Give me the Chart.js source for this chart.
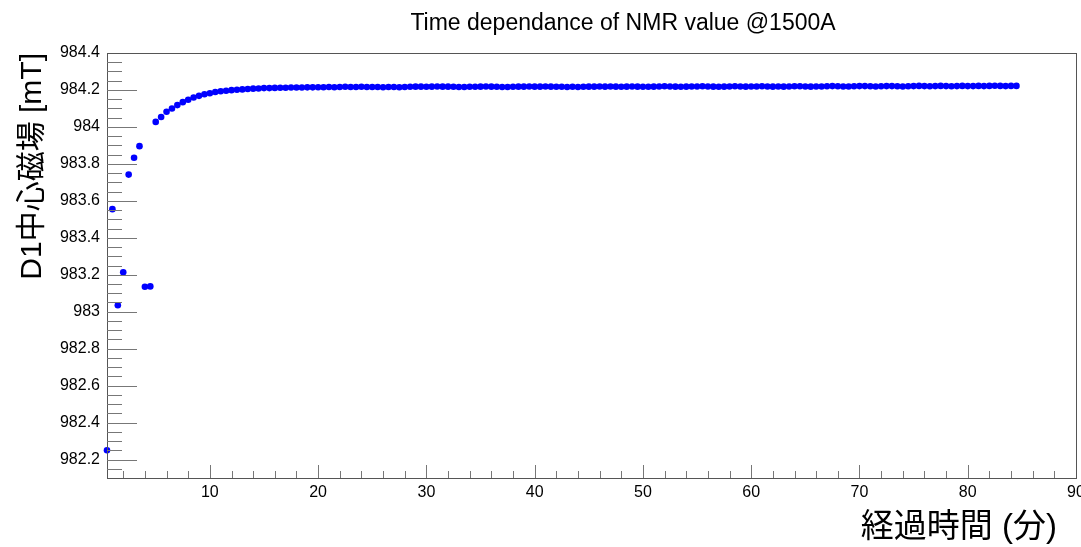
<!DOCTYPE html>
<html>
<head>
<meta charset="utf-8">
<script src="https://cdn.jsdelivr.net/npm/chart.js@4.4.1/dist/chart.umd.min.js"></script>
<style>
  html, body { margin: 0; padding: 0; background: #fff; }
  #wrap { width: 1081px; height: 547px; }
</style>
</head>
<body>
<div id="wrap"><canvas id="nmrChart" width="1081" height="547"></canvas></div>
<script>
// 経過時間 [分]
const times = [
    0.5, 1.0, 1.5, 2.0, 2.5, 3.0, 3.5, 4.0, 4.5, 5.0,
    5.5, 6.0, 6.5, 7.0, 7.5, 8.0, 8.5, 9.0, 9.5, 10.0,
    10.5, 11.0, 11.5, 12.0, 12.5, 13.0, 13.5, 14.0, 14.5, 15.0,
    15.5, 16.0, 16.5, 17.0, 17.5, 18.0, 18.5, 19.0, 19.5, 20.0,
    20.5, 21.0, 21.5, 22.0, 22.5, 23.0, 23.5, 24.0, 24.5, 25.0,
    25.5, 26.0, 26.5, 27.0, 27.5, 28.0, 28.5, 29.0, 29.5, 30.0,
    30.5, 31.0, 31.5, 32.0, 32.5, 33.0, 33.5, 34.0, 34.5, 35.0,
    35.5, 36.0, 36.5, 37.0, 37.5, 38.0, 38.5, 39.0, 39.5, 40.0,
    40.5, 41.0, 41.5, 42.0, 42.5, 43.0, 43.5, 44.0, 44.5, 45.0,
    45.5, 46.0, 46.5, 47.0, 47.5, 48.0, 48.5, 49.0, 49.5, 50.0,
    50.5, 51.0, 51.5, 52.0, 52.5, 53.0, 53.5, 54.0, 54.5, 55.0,
    55.5, 56.0, 56.5, 57.0, 57.5, 58.0, 58.5, 59.0, 59.5, 60.0,
    60.5, 61.0, 61.5, 62.0, 62.5, 63.0, 63.5, 64.0, 64.5, 65.0,
    65.5, 66.0, 66.5, 67.0, 67.5, 68.0, 68.5, 69.0, 69.5, 70.0,
    70.5, 71.0, 71.5, 72.0, 72.5, 73.0, 73.5, 74.0, 74.5, 75.0,
    75.5, 76.0, 76.5, 77.0, 77.5, 78.0, 78.5, 79.0, 79.5, 80.0,
    80.5, 81.0, 81.5, 82.0, 82.5, 83.0, 83.5, 84.0, 84.5
];

// D1中心磁場 [mT]
const fieldValues = [
    982.250, 983.555, 983.035, 983.213, 983.742, 983.833, 983.896, 983.135, 983.137, 984.027,
    984.054, 984.082, 984.100, 984.118, 984.134, 984.147, 984.159, 984.168, 984.177, 984.182,
    984.189, 984.193, 984.196, 984.199, 984.201, 984.203, 984.205, 984.207, 984.208, 984.210,
    984.210, 984.211, 984.212, 984.212, 984.213, 984.213, 984.213, 984.214, 984.214, 984.215,
    984.215, 984.216, 984.215, 984.216, 984.217, 984.216, 984.216, 984.217, 984.216, 984.216,
    984.216, 984.215, 984.216, 984.216, 984.215, 984.216, 984.217, 984.218, 984.218, 984.217,
    984.218, 984.219, 984.218, 984.218, 984.217, 984.216, 984.216, 984.217, 984.217, 984.218,
    984.219, 984.218, 984.217, 984.216, 984.216, 984.217, 984.218, 984.218, 984.219, 984.218,
    984.218, 984.219, 984.218, 984.217, 984.217, 984.216, 984.217, 984.216, 984.217, 984.218,
    984.218, 984.219, 984.218, 984.219, 984.218, 984.217, 984.218, 984.219, 984.218, 984.217,
    984.217, 984.218, 984.219, 984.220, 984.219, 984.218, 984.217, 984.218, 984.219, 984.219,
    984.220, 984.219, 984.218, 984.217, 984.218, 984.219, 984.220, 984.219, 984.218, 984.219,
    984.219, 984.220, 984.219, 984.218, 984.219, 984.218, 984.219, 984.220, 984.220, 984.219,
    984.218, 984.219, 984.219, 984.220, 984.221, 984.220, 984.219, 984.219, 984.220, 984.221,
    984.221, 984.220, 984.219, 984.220, 984.221, 984.221, 984.220, 984.219, 984.220, 984.221,
    984.222, 984.221, 984.220, 984.221, 984.222, 984.221, 984.220, 984.221, 984.222, 984.221,
    984.221, 984.222, 984.221, 984.222, 984.223, 984.222, 984.221, 984.222, 984.222
];

const xTicks = [10, 20, 30, 40, 50, 60, 70, 80, 90];
const yTicks = [982.2, 982.4, 982.6, 982.8, 983, 983.2, 983.4, 983.6, 983.8, 984, 984.2, 984.4];

const TITLE = 'Time dependance of NMR value @1500A';
const X_TITLE = '経過時間 (分)';
const Y_TITLE = 'D1中心磁場 [mT]';

const LATIN = "'Liberation Sans', Arial, sans-serif";
const CJK = "'Liberation Sans', 'Noto Sans CJK JP', sans-serif";

// ROOT風のフレーム・目盛り・タイトル
const rootFramePlugin = {
    id: 'rootFrame',
    afterDraw(chart) {
        const { ctx, chartArea: a, scales } = chart;
        const xs = scales.x, ys = scales.y;
        ctx.save();
        ctx.strokeStyle = '#555';
        ctx.lineWidth = 1;
        ctx.strokeRect(Math.round(a.left) + 0.5, Math.round(a.top) + 0.5,
            Math.round(a.right - a.left), Math.round(a.bottom - a.top));

        ctx.strokeStyle = '#777';
        ctx.beginPath();
        // x目盛り (主: 10, 副: 2)
        for (let v = 2; v < 90; v += 2) {
            const px = Math.round(xs.getPixelForValue(v)) + 0.5;
            const len = v % 10 === 0 ? 13 : 7;
            ctx.moveTo(px, a.bottom);
            ctx.lineTo(px, a.bottom - len);
        }
        // y目盛り (主: 0.2, 副: 0.05)
        for (let k = 1; k < 46; k++) {
            const v = 982.1 + k * 0.05;
            const py = Math.round(ys.getPixelForValue(v)) + 0.5;
            const major = (k - 2) % 4 === 0;
            ctx.moveTo(a.left, py);
            ctx.lineTo(a.left + (major ? 30 : 15), py);
        }
        ctx.stroke();

        ctx.fillStyle = '#000';
        ctx.font = '23px ' + LATIN;
        ctx.textAlign = 'center';
        ctx.textBaseline = 'alphabetic';
        ctx.fillText(TITLE, 623, 30);

        ctx.font = '33px ' + CJK;
        ctx.textAlign = 'right';
        ctx.fillText(X_TITLE, 1057, 537);

        ctx.translate(33, 53);
        ctx.rotate(-Math.PI / 2);
        ctx.font = '30px ' + CJK;
        ctx.textAlign = 'right';
        ctx.textBaseline = 'middle';
        ctx.fillText(Y_TITLE, 0, 0);
        ctx.restore();
    }
};

const fmt = v => parseFloat(Number(v).toFixed(1)).toString();

new Chart(document.getElementById('nmrChart'), {
    type: 'scatter',
    data: {
        datasets: [{
            data: times.map((t, i) => ({ x: t, y: fieldValues[i] })),
            backgroundColor: '#0000ff', borderWidth: 0,
            pointRadius: 3.3, pointHoverRadius: 3.3, clip: false
        }]
    },
    options: {
        responsive: false, animation: false, devicePixelRatio: 1,
        layout: { padding: { left: 0, right: 5, top: 53, bottom: 0 } },
        plugins: { legend: { display: false }, tooltip: { enabled: false } },
        scales: {
            x: {
                type: 'linear', min: 0.5, max: 90,
                grid: { display: false, drawTicks: false }, border: { display: false },
                afterBuildTicks: s => { s.ticks = xTicks.map(v => ({ value: v })); },
                afterFit: s => { s.height = 69; s.paddingLeft = 0; s.paddingRight = 0; },
                ticks: { color: '#000', padding: 5, maxRotation: 0, autoSkip: false, font: { family: LATIN, size: 16 }, callback: fmt }
            },
            y: {
                type: 'linear', min: 982.1, max: 984.4,
                grid: { display: false, drawTicks: false }, border: { display: false },
                afterBuildTicks: s => { s.ticks = yTicks.map(v => ({ value: v })); },
                afterFit: s => { s.width = 107; s.paddingTop = 0; s.paddingBottom = 0; },
                ticks: { color: '#000', padding: 7, autoSkip: false, font: { family: LATIN, size: 16 }, callback: fmt }
            }
        }
    },
    plugins: [rootFramePlugin]
});
</script>
</body>
</html>
